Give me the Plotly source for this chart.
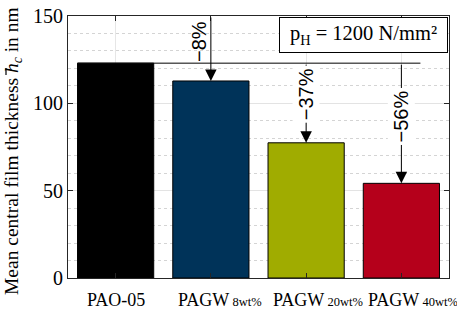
import plotly.graph_objects as go

# ---- data ----
category_main = ["PAO-05", "PAGW", "PAGW", "PAGW"]
category_sub = ["", "8wt%", "20wt%", "40wt%"]
film_thickness = [123.0, 112.8, 77.4, 54.2]
bar_colors = ["#000000", "#003359", "#A0AC00", "#B5001B"]
change_labels = ["\u22128%", "\u221237%", "\u221256%"]
y_ticks = [0, 50, 100, 150]
pressure_label = "p<sub>H</sub> = 1200 N/mm\u00b2"
y_title = "Mean central film thickness <i>h</i><sub><i>c</i></sub> in nm"

SERIF = "Liberation Serif"
SANS = "Liberation Sans"
W, H = 457, 311
L, R, T, B = 68, 8, 16, 33
PW, PH = W - L - R, H - T - B

xs = list(range(len(category_main)))
fig = go.Figure()
fig.add_trace(go.Bar(
    x=xs, y=film_thickness, width=0.8,
    marker=dict(color=bar_colors, line=dict(color="#000000", width=1)),
    showlegend=False, hoverinfo="skip",
))

ref = film_thickness[0]
ann = []
shapes = []
# reference horizontal line
shapes.append(dict(type="line", xref="x", yref="y", x0=-0.4, x1=3.2, y0=ref, y1=ref,
                   line=dict(color="#000000", width=1), layer="above"))

# arrows
arrow_starts = [150, ref, ref]
for i, start in enumerate(arrow_starts):
    k = i + 1
    ann.append(dict(x=k, y=film_thickness[k], ax=k, ay=start, xref="x", yref="y",
                    axref="x", ayref="y", text="", showarrow=True, arrowhead=2,
                    arrowsize=2.3, arrowwidth=1, arrowcolor="#000000", standoff=0))

# percentage labels
label_pos = [(1, 135.6, -12), (2, 105.3, 0), (3, 92.7, 0)]
for (k, yy, xsft), txt in zip(label_pos, change_labels):
    ann.append(dict(x=k, y=yy, xref="x", yref="y", text=txt, showarrow=False,
                    textangle=-90, xshift=xsft, bgcolor="white" if xsft == 0 else None,
                    borderpad=2,
                    font=dict(family=SANS, size=20, color="#000000")))

# pressure box
ann.append(dict(x=2.602, y=139.1, xref="x", yref="y", text=pressure_label, showarrow=False,
                bgcolor="white", bordercolor="#000000", borderwidth=1, borderpad=0,
                width=167, height=34, align="center",
                font=dict(family=SERIF, size=20.5, color="#000000")))

# x tick labels
for k, main, sub in zip(xs, category_main, category_sub):
    if sub:
        txt = main + "<span style='font-size:12.5px'> " + sub + "</span>"
        ann.append(dict(x=k, y=0, xref="x", yref="paper", text=txt, showarrow=False,
                        xanchor="left", xshift=-35, yanchor="top", yshift=-10,
                        font=dict(family=SERIF, size=18, color="#000000")))
    else:
        ann.append(dict(x=k, y=0, xref="x", yref="paper", text=main, showarrow=False,
                        xanchor="center", yanchor="top", yshift=-10,
                        font=dict(family=SERIF, size=18, color="#000000")))

# y title
ann.append(dict(x=(13 - L) / PW, y=(H - B - 151.0) / PH, xref="paper", yref="paper",
                text=y_title, showarrow=False, textangle=-90, xanchor="center", yanchor="middle",
                font=dict(family=SERIF, size=19.5, color="#000000")))
# macron bar over the italic h
shapes.append(dict(type="line", xref="paper", yref="paper",
                   x0=(6 - L) / PW, x1=(6 - L) / PW,
                   y0=(H - B - 75) / PH, y1=(H - B - 68) / PH,
                   line=dict(color="#000000", width=1.2)))

fig.update_layout(
    width=W, height=H,
    margin=dict(l=L, r=R, t=T, b=B, autoexpand=False),
    paper_bgcolor="white", plot_bgcolor="white",
    annotations=ann, shapes=shapes,
    xaxis=dict(range=[-0.5, 3.5], tickvals=xs, showticklabels=False,
               ticks="inside", ticklen=5, tickcolor="#262626",
               showline=True, linecolor="#262626", linewidth=1, mirror="ticks",
               showgrid=True, gridcolor="#e6e6e6", gridwidth=1, zeroline=False,
               fixedrange=True),
    yaxis=dict(range=[0, 150], tickvals=y_ticks, ticks="inside", ticklen=5,
               tickcolor="#262626", showline=True, linecolor="#262626", linewidth=1,
               mirror="ticks", showgrid=True, gridcolor="#e3e3e3", gridwidth=1,
               zeroline=False, tickfont=dict(family=SERIF, size=20, color="#000000"),
               minor=dict(dtick=10, showgrid=True, gridcolor="#d4d4d4", griddash="dot",
                          gridwidth=1),
               fixedrange=True),
)

fig.write_html("out.html", config={"displayModeBar": False},
               post_script="document.body.style.margin='0';document.body.style.padding='0';")
